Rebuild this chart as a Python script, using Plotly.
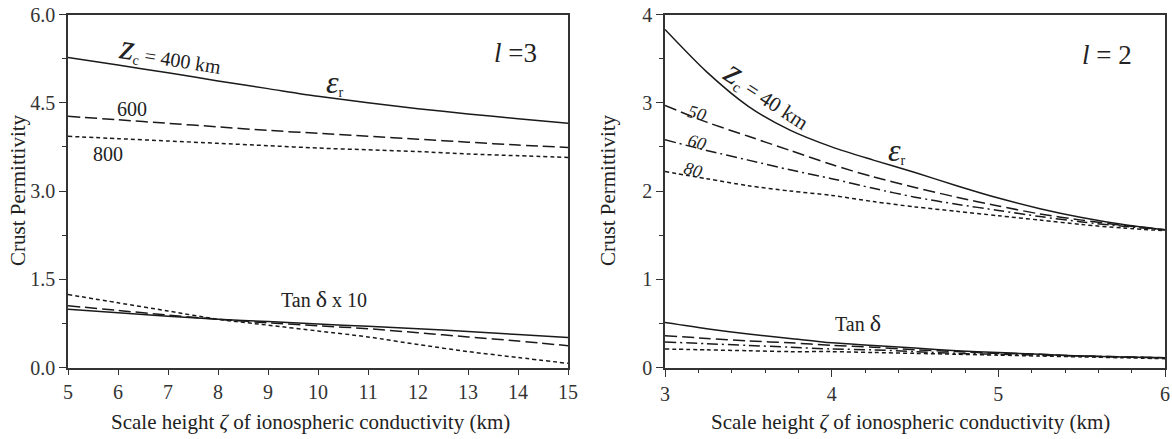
import plotly.graph_objects as go

# ---------------- Left panel (l = 3) ----------------
zeta_left = [5, 6, 7, 8, 9, 10, 11, 12, 13, 14, 15]
eps_400 = [5.27, 5.14, 5.01, 4.87, 4.74, 4.61, 4.50, 4.40, 4.31, 4.23, 4.15]
eps_600 = [4.27, 4.21, 4.15, 4.09, 4.03, 3.98, 3.93, 3.88, 3.83, 3.78, 3.74]
eps_800 = [3.93, 3.89, 3.85, 3.81, 3.77, 3.73, 3.70, 3.67, 3.63, 3.60, 3.57]
tan_400 = [0.99, 0.93, 0.87, 0.82, 0.78, 0.74, 0.70, 0.66, 0.61, 0.56, 0.51]
tan_600 = [1.05, 0.97, 0.89, 0.82, 0.76, 0.71, 0.66, 0.59, 0.52, 0.45, 0.37]
tan_800 = [1.24, 1.10, 0.96, 0.82, 0.72, 0.62, 0.52, 0.39, 0.27, 0.17, 0.07]

# ---------------- Right panel (l = 2) ----------------
zeta_right = [3.0, 3.25, 3.5, 3.75, 4.0, 4.25, 4.5, 4.75, 5.0, 5.25, 5.5, 5.75, 6.0]
eps_40 = [3.83, 3.35, 2.96, 2.69, 2.50, 2.35, 2.21, 2.06, 1.92, 1.80, 1.70, 1.62, 1.56]
eps_50 = [2.97, 2.78, 2.62, 2.46, 2.30, 2.16, 2.04, 1.93, 1.83, 1.74, 1.67, 1.61, 1.56]
eps_60 = [2.58, 2.46, 2.35, 2.24, 2.14, 2.03, 1.93, 1.85, 1.78, 1.71, 1.65, 1.60, 1.56]
eps_80 = [2.22, 2.14, 2.06, 2.00, 1.95, 1.88, 1.82, 1.77, 1.72, 1.67, 1.62, 1.58, 1.55]
tan_40 = [0.51, 0.44, 0.38, 0.33, 0.28, 0.25, 0.22, 0.19, 0.17, 0.15, 0.13, 0.12, 0.11]
tan_50 = [0.36, 0.33, 0.30, 0.28, 0.25, 0.23, 0.20, 0.18, 0.16, 0.15, 0.13, 0.12, 0.11]
tan_60 = [0.29, 0.27, 0.25, 0.23, 0.21, 0.20, 0.18, 0.16, 0.15, 0.14, 0.13, 0.12, 0.11]
tan_80 = [0.21, 0.20, 0.19, 0.18, 0.18, 0.17, 0.16, 0.15, 0.14, 0.13, 0.12, 0.11, 0.10]

SERIF = "Liberation Serif, Times New Roman, serif"
LC = "#1a1a1a"
AX = "#333333"

SOLID = "solid"
DASH = "12px,5px"
DOT = "4px,3px"
DASHDOT = "11px,4px,2px,4px"

fig = go.Figure()

def add(x, y, dash, xa, ya):
    fig.add_trace(go.Scatter(x=x, y=y, mode="lines", xaxis=xa, yaxis=ya,
                             line=dict(color=LC, width=1.5, dash=dash, shape="spline",
                                       smoothing=0.8),
                             showlegend=False, hoverinfo="skip", cliponaxis=False))

for ys, d in [(eps_400, SOLID), (eps_600, DASH), (eps_800, DOT),
              (tan_400, SOLID), (tan_600, DASH), (tan_800, DOT)]:
    add(zeta_left, ys, d, "x", "y")

for ys, d in [(eps_40, SOLID), (eps_50, DASH), (eps_60, DASHDOT), (eps_80, DOT),
              (tan_40, SOLID), (tan_50, DASH), (tan_60, DASHDOT), (tan_80, DOT)]:
    add(zeta_right, ys, d, "x2", "y2")

axis_common = dict(showgrid=False, zeroline=False, showline=True, linecolor=AX,
                   linewidth=1.6, mirror=True, ticks="outside", tickcolor=AX,
                   tickwidth=1.4, automargin=False,
                   tickfont=dict(family=SERIF, size=20, color="#333"))

ydom = [1 - 367.5 / 439, 1 - 14.5 / 439]

fig.update_layout(
    width=1172, height=439,
    margin=dict(l=0, r=0, t=0, b=0, autoexpand=False),
    paper_bgcolor="white", plot_bgcolor="white",
    xaxis=dict(domain=[68 / 1172, 568 / 1172], range=[5, 15], dtick=1, ticklen=6,
               anchor="y", **axis_common),
    yaxis=dict(domain=ydom, range=[0, 6], dtick=1.5, tickformat=".1f", ticklen=7,
               anchor="x",
               minor=dict(dtick=0.75, ticklen=4, ticks="outside", tickcolor=AX),
               **axis_common),
    xaxis2=dict(domain=[665 / 1172, 1165 / 1172], range=[3, 6], dtick=1, ticklen=8,
                anchor="y2",
                minor=dict(dtick=0.2, ticklen=4, ticks="outside", tickcolor=AX),
                **axis_common),
    yaxis2=dict(domain=ydom, range=[0, 4], dtick=1, ticklen=7, anchor="x2",
                minor=dict(dtick=0.5, ticklen=4, ticks="outside", tickcolor=AX),
                **axis_common),
)

def ann(text, x, y, xref, yref, size=20, angle=0, **kw):
    fig.add_annotation(text=text, x=x, y=y, xref=xref, yref=yref, showarrow=False,
                       textangle=angle, font=dict(family=SERIF, size=size, color="#222"),
                       xanchor="center", yanchor="middle", **kw)

BIGZ = '<span style="font-size:36px"><i>z</i></span>'
BIGE = '<span style="font-size:32px"><i>ε</i></span>'
BIGD = '<span style="font-size:24px">δ</span>'

# Left panel labels
ann(BIGZ + "<sub>c</sub> = 400 km", 7.05, 5.33, "x", "y", angle=9)
ann(BIGE + "<sub>r</sub>", 10.34, 4.85, "x", "y")
ann("600", 6.28, 4.39, "x", "y")
ann("800", 5.8, 3.63, "x", "y")
ann("<i>l</i> =3", 13.94, 5.35, "x", "y", size=27)
ann("Tan " + BIGD + " x 10", 10.12, 1.16, "x", "y")

# Right panel labels
ann(BIGZ + "<sub>c</sub> = 40 km", 3.62, 3.10, "x2", "y2", size=21, angle=33)
ann("<i>50</i>", 3.19, 2.88, "x2", "y2", size=18, angle=15)
ann("<i>60</i>", 3.19, 2.55, "x2", "y2", size=18, angle=15)
ann("<i>80</i>", 3.17, 2.24, "x2", "y2", size=18, angle=15)
ann(BIGE + "<sub>r</sub>", 4.39, 2.46, "x2", "y2")
ann("<i>l</i> = 2", 5.65, 3.54, "x2", "y2", size=27)
ann("Tan " + BIGD, 4.16, 0.50, "x2", "y2")

# Axis titles
xt = "Scale height <i>ζ</i> of ionospheric conductivity (km)"
ann(xt, 310 / 1172, 1 - 422 / 439, "paper", "paper", size=21)
ann(xt, 910 / 1172, 1 - 422 / 439, "paper", "paper", size=21)
ann("Crust Permittivity", 18 / 1172, 1 - 190 / 439, "paper", "paper", size=21, angle=-90)
ann("Crust Permittivity", 608 / 1172, 1 - 190 / 439, "paper", "paper", size=21, angle=-90)

fig.write_html("out.html", config={"displayModeBar": False},
               post_script="document.body.style.margin='0';document.body.style.overflow='hidden';")
